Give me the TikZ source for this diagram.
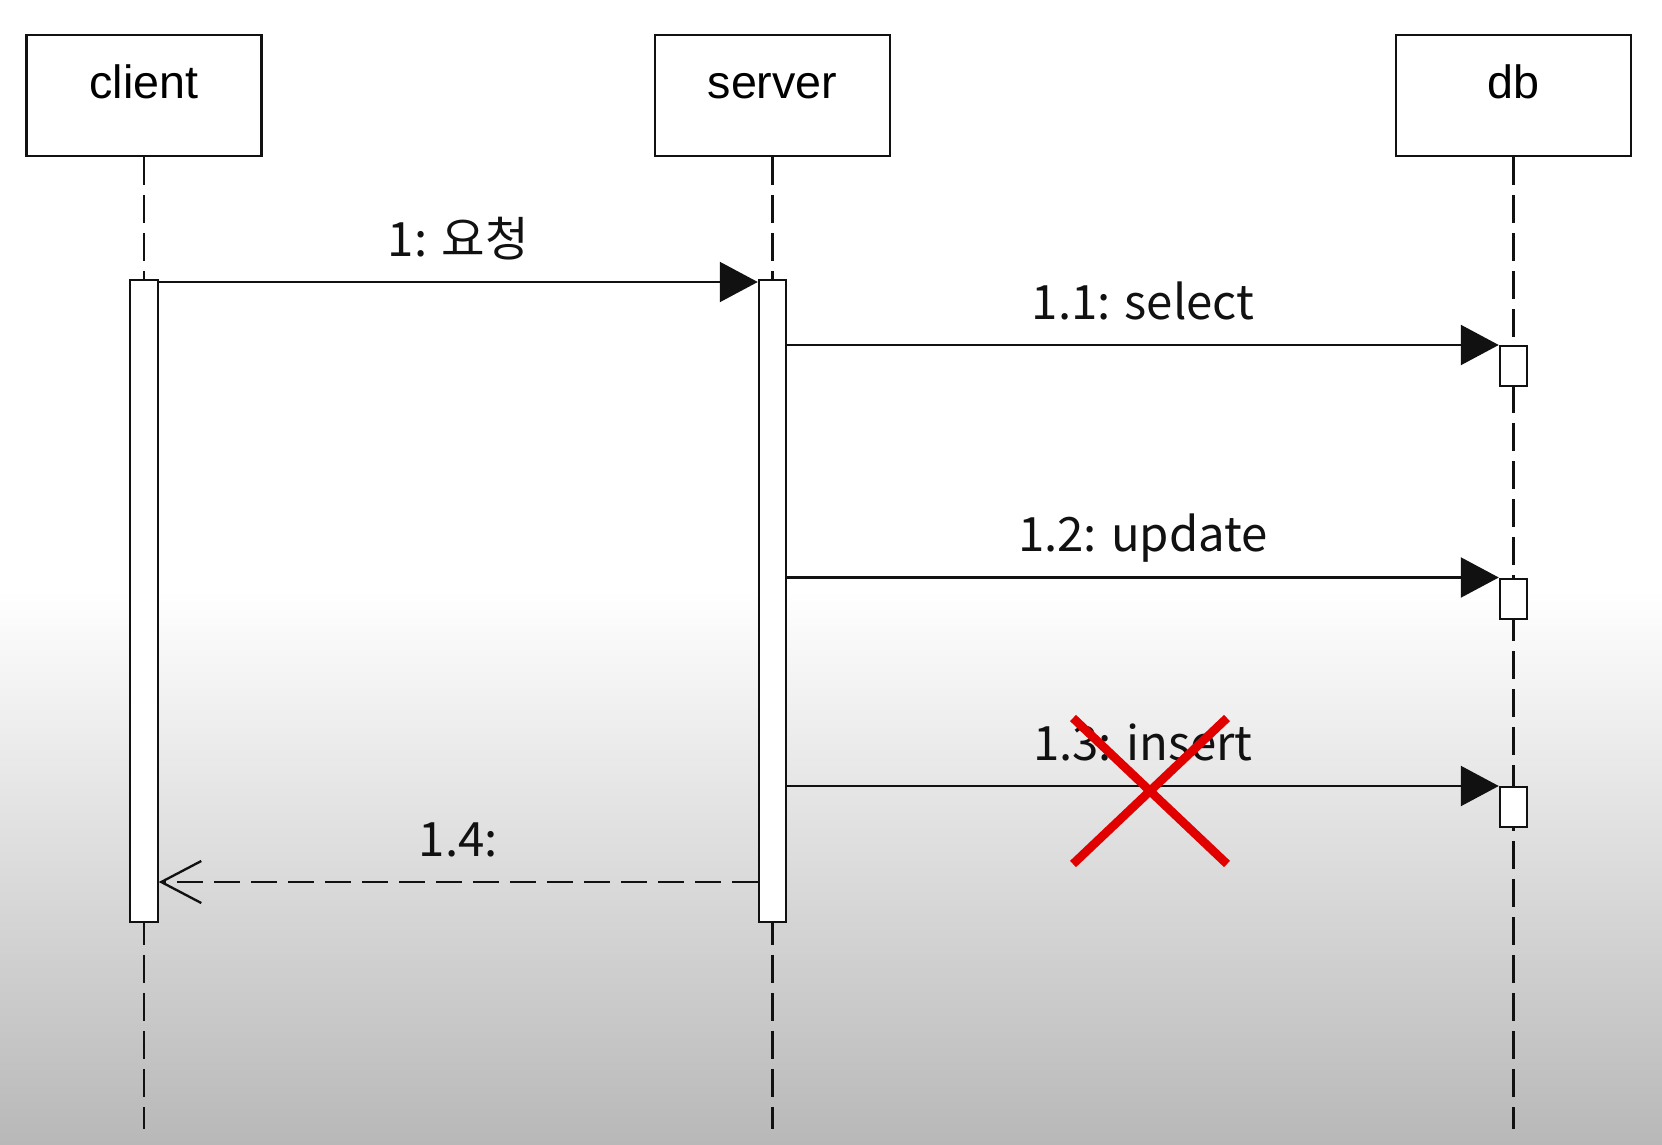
\documentclass[tikz,border=0pt]{standalone}
\usepackage{fontspec}
\setmainfont{Liberation Sans}
\newfontfamily\krfont{Noto Sans CJK KR}
\usetikzlibrary{arrows.meta,positioning}
\definecolor{cNeut} {HTML}{111111}
\definecolor{cCross}{HTML}{E00000}
\definecolor{cBgLow}{HTML}{B8B8B8}
\tikzset{
  obj/.style   ={draw=cNeut,fill=white,line width=0.75pt,inner sep=0pt,
                 minimum width=70.5pt,minimum height=36.3pt},
  oname/.style ={font=\fontsize{14}{16}\selectfont,anchor=base,inner sep=0pt},
  act/.style   ={draw=cNeut,fill=white,line width=0.65pt,inner sep=0pt,
                 minimum width=8.2pt,anchor=north},
  life/.style  ={draw=cNeut,line width=0.65pt,dash pattern=on 8.4pt off 3pt},
  msg/.style   ={-{Triangle[length=11.4pt,width=12pt]},draw=cNeut,line width=0.7pt},
  ret/.style   ={-{Straight Barb[length=12pt,width=12.6pt]},draw=cNeut,
                 line width=0.7pt,dash pattern=on 7.8pt off 3.3pt},
  mlbl/.style  ={font=\krfont\fontsize{14.2}{17}\selectfont,anchor=base,
                 yshift=7.8pt,inner sep=0pt,text=cNeut},
  xmark/.style ={draw=cCross,line width=2.6pt},
}

\begin{document}
\begin{tikzpicture}[x=0.3pt,y=-0.3pt]
% background
\fill[white] (0,0) rectangle (1662,1144);
\shade[top color=white,bottom color=cBgLow] (0,590) rectangle (1662,1144);
\useasboundingbox (0,0) rectangle (1662,1144);

% objects
\node[obj] (client) at (144,95.5) {};
\node[obj] (server) at (772.5,95.5) {};
\node[obj] (db)     at (1513.5,95.5) {};
\node[oname] (clientname) at ([yshift=-19.4pt]client.north) {client};
\node[oname] (servername) at ([yshift=-19.4pt]server.north) {server};
\node[oname] (dbname)     at ([yshift=-19.4pt]db.north) {db};

% lifelines
\coordinate (clientbot) at (144,1129);
\coordinate (serverbot) at (772.5,1129);
\coordinate (dbbot)     at (1513.5,1129);
\draw[life] (client.south) -- (clientbot);
\draw[life] (server.south) -- (serverbot);
\draw[life] (db.south) -- (dbbot);

% activations
\node[act,minimum height=192.6pt] (clientact) at (144,279) {};
\node[act,minimum height=192.6pt] (serveract) at (772.5,279) {};
\node[act,minimum height=12pt] (dbsel) at (1513.5,345) {};
\node[act,minimum height=12pt] (dbupd) at (1513.5,577.5) {};
\node[act,minimum height=12pt] (dbins) at (1513.5,786) {};

% messages
\draw[msg] ([yshift=-0.9pt]clientact.north east) -- ([yshift=-0.9pt]serveract.north west)
  node[mlbl,midway] {1: 요청};
\draw[msg] (serveract.east |- dbsel.north) -- (dbsel.north west)
  node[mlbl,midway] {1.1: select};
\draw[msg] (serveract.east |- dbupd.north) -- (dbupd.north west)
  node[mlbl,midway] {1.2: update};
\draw[msg] (serveract.east |- dbins.north) -- (dbins.north west)
  node[mlbl,midway] {1.3: insert};
\coordinate (r14) at (460,882);
\draw[ret] (serveract.west |- r14) -- (clientact.east |- r14)
  node[mlbl,midway] {1.4:};

% cross over 1.3
\draw[xmark] (1073,718) -- (1227,864) (1227,718) -- (1073,864);
\end{tikzpicture}
\end{document}
